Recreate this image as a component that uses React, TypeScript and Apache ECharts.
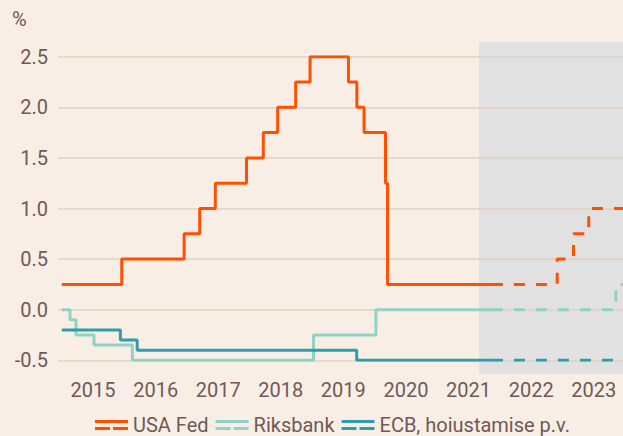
import React, { useEffect, useRef } from "react";
import * as echarts from "echarts";

// ---- Data ----
const yearLabels = ["2015", "2016", "2017", "2018", "2019", "2020", "2021", "2022", "2023"];
const axisStart = "2014-12-10";
const axisEnd = "2023-12-20";
const forecastShadeStart = "2021-09-01";

const fedActual: [string, number][] = [
  ["2015-01-01", 0.25],
  ["2015-12-17", 0.5],
  ["2016-12-15", 0.75],
  ["2017-03-16", 1.0],
  ["2017-06-15", 1.25],
  ["2017-12-14", 1.5],
  ["2018-03-22", 1.75],
  ["2018-06-14", 2.0],
  ["2018-09-27", 2.25],
  ["2018-12-20", 2.5],
  ["2019-08-01", 2.25],
  ["2019-09-19", 2.0],
  ["2019-10-31", 1.75],
  ["2020-03-04", 1.25],
  ["2020-03-16", 0.25],
  ["2021-11-15", 0.25],
];
const fedForecast: [string, number][] = [
  ["2021-11-15", 0.25],
  ["2022-12-01", 0.5],
  ["2023-03-06", 0.75],
  ["2023-06-03", 1.0],
  ["2023-12-20", 1.0],
];
const riksActual: [string, number][] = [
  ["2015-01-01", 0],
  ["2015-02-18", -0.1],
  ["2015-03-25", -0.25],
  ["2015-07-08", -0.35],
  ["2016-02-17", -0.5],
  ["2019-01-09", -0.25],
  ["2020-01-08", 0],
  ["2021-11-15", 0],
];
const riksForecast: [string, number][] = [
  ["2021-11-15", 0],
  ["2023-11-08", 0.25],
  ["2023-12-20", 0.25],
];
const ecbActual: [string, number][] = [
  ["2015-01-01", -0.2],
  ["2015-12-09", -0.3],
  ["2016-03-16", -0.4],
  ["2019-09-18", -0.5],
  ["2021-11-15", -0.5],
];
const ecbForecast: [string, number][] = [
  ["2021-11-15", -0.5],
  ["2023-12-20", -0.5],
];

const names = ["USA Fed", "Riksbank", "ECB, hoiustamise p.v."];
const colors = ["#ff5000", "#8fd3c5", "#2c9fab"];

const TEXT = "#6e5a56";
const FONT = "Roboto, 'Noto Sans', sans-serif";
const legendIcon = "path://M0,0H33V3H0Z M0,7H15V10H0Z M18,7H33V10H18Z";

const t = (d: string) => Date.parse(d + "T00:00:00Z");
const toXY = (arr: [string, number][]) => arr.map(([d, v]) => [t(d), v]);

export default function App() {
  const ref = useRef<HTMLDivElement>(null);
  useEffect(() => {
    document.body.style.margin = "0";
    const chart = echarts.init(ref.current!, null, { renderer: "svg" });
    const mk = (name: string, color: string, data: [string, number][], dashed: boolean) => ({
      name,
      type: "line",
      step: "end",
      data: toXY(data),
      color,
      symbol: "none",
      xAxisIndex: 0,
      yAxisIndex: 0,
      z: 3,
      lineStyle: { width: 3, color, type: dashed ? [11, 11] : "solid", cap: "butt" },
      emphasis: { disabled: true },
    });
    const label = { color: TEXT, fontSize: 20, fontWeight: 400, fontFamily: FONT };
    chart.setOption({
      animation: false,
      backgroundColor: "#f9eee5",
      textStyle: { fontFamily: FONT },
      title: {
        text: "%",
        left: 12,
        top: 9,
        padding: 0,
        textStyle: label,
      },
      legend: {
        left: 95,
        top: 415,
        padding: 0,
        itemWidth: 33,
        itemHeight: 10,
        itemGap: 7,
        selectedMode: false,
        textStyle: label,
        data: names.map((n) => ({ name: n, icon: legendIcon })),
      },
      grid: [
        { left: 58, right: 0, top: 56.7, bottom: 75.7 },
        { left: 58, right: 0, top: 42, bottom: 62 },
      ],
      xAxis: [
        {
          type: "value",
          gridIndex: 0,
          min: t(axisStart),
          max: t(axisEnd),
          axisLine: { show: false },
          axisTick: { show: false },
          splitLine: { show: false },
          axisLabel: {
            customValues: yearLabels.map((y) => t(y + "-07-02")),
            formatter: (v: number) => String(new Date(v).getUTCFullYear()),
            ...label,
            margin: 20,
            hideOverlap: false,
          },
        },
        {
          type: "value",
          gridIndex: 1,
          min: t(axisStart),
          max: t(axisEnd),
          show: false,
        },
      ],
      yAxis: [
        {
          type: "value",
          gridIndex: 0,
          min: -0.5,
          max: 2.5,
          interval: 0.5,
          z: 2,
          axisLine: { show: false },
          axisTick: { show: false },
          splitLine: { lineStyle: { color: "#e3cfc2", width: 1.5 } },
          axisLabel: {
            formatter: (v: number) => v.toFixed(1),
            ...label,
            margin: 10,
          },
        },
        { type: "value", gridIndex: 1, min: 0, max: 1, show: false },
      ],
      series: [
        {
          type: "line",
          xAxisIndex: 1,
          yAxisIndex: 1,
          data: [[t(axisEnd), 0.5]],
          symbol: "none",
          lineStyle: { opacity: 0 },
          z: 0,
          silent: true,
          markArea: {
            silent: true,
            z: 0,
            itemStyle: { color: "#e1e1e1" },
            data: [[{ xAxis: t(forecastShadeStart) }, { xAxis: t(axisEnd) }]],
          },
        },
        mk(names[0], colors[0], fedActual, false),
        mk(names[0], colors[0], fedForecast, true),
        mk(names[1], colors[1], riksActual, false),
        mk(names[1], colors[1], riksForecast, true),
        mk(names[2], colors[2], ecbActual, false),
        mk(names[2], colors[2], ecbForecast, true),
      ],
    });
    return () => chart.dispose();
  }, []);
  return (
    <div
      ref={ref}
      style={{ position: "absolute", left: 0, top: 0, width: 623, height: 436 }}
    />
  );
}
